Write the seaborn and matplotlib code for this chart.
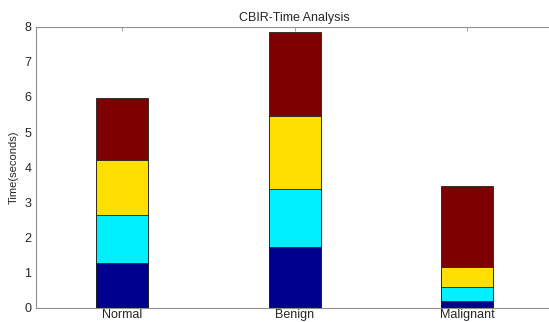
import matplotlib
matplotlib.use('Agg')
import matplotlib.pyplot as plt
import seaborn as sns
import numpy as np

categories = ["Normal", "Benign", "Malignant"]
# stacked segment heights (seconds), bottom to top
stage1 = [1.28, 1.73, 0.19]
stage2 = [1.35, 1.66, 0.40]
stage3 = [1.58, 2.08, 0.56]
stage4 = [1.75, 2.37, 2.31]

colors = ["#00008F", "#00F0FF", "#FFDF00", "#7F0000"]

sns.set_style("white")
plt.rcParams['font.family'] = ['Liberation Sans', 'DejaVu Sans']
plt.rcParams['xtick.direction'] = 'in'
plt.rcParams['ytick.direction'] = 'in'

fig = plt.figure(figsize=(5.49, 3.22), dpi=100)
ax = fig.add_axes([0.0647, 0.045, 0.944, 0.872])

layers = np.array([stage1, stage2, stage3, stage4])
tops = np.cumsum(layers, axis=0)

# draw tallest cumulative layer first so lower layers sit on top
for i in range(len(layers) - 1, -1, -1):
    sns.barplot(x=categories, y=tops[i], order=categories, color=colors[i],
                saturation=1, width=0.3, edgecolor="#202020", linewidth=0.6, ax=ax)

ax.set_xlim(-0.5, 2.5)
ax.set_ylim(0, 8)
ax.set_yticks(range(0, 9))
ax.set_title("CBIR-Time Analysis", fontsize=9, pad=4)
ax.set_ylabel("Time(seconds)", fontsize=8, labelpad=4)
ax.set_xlabel("")
ax.tick_params(axis='both', labelsize=9, length=3, width=0.6, color="#909090",
               top=True, right=True)
ax.tick_params(axis='x', pad=1)
ax.tick_params(axis='y', pad=3)
for s in ax.spines.values():
    s.set_color("#909090")
    s.set_linewidth(0.8)

fig.savefig("out.png", dpi=100)
